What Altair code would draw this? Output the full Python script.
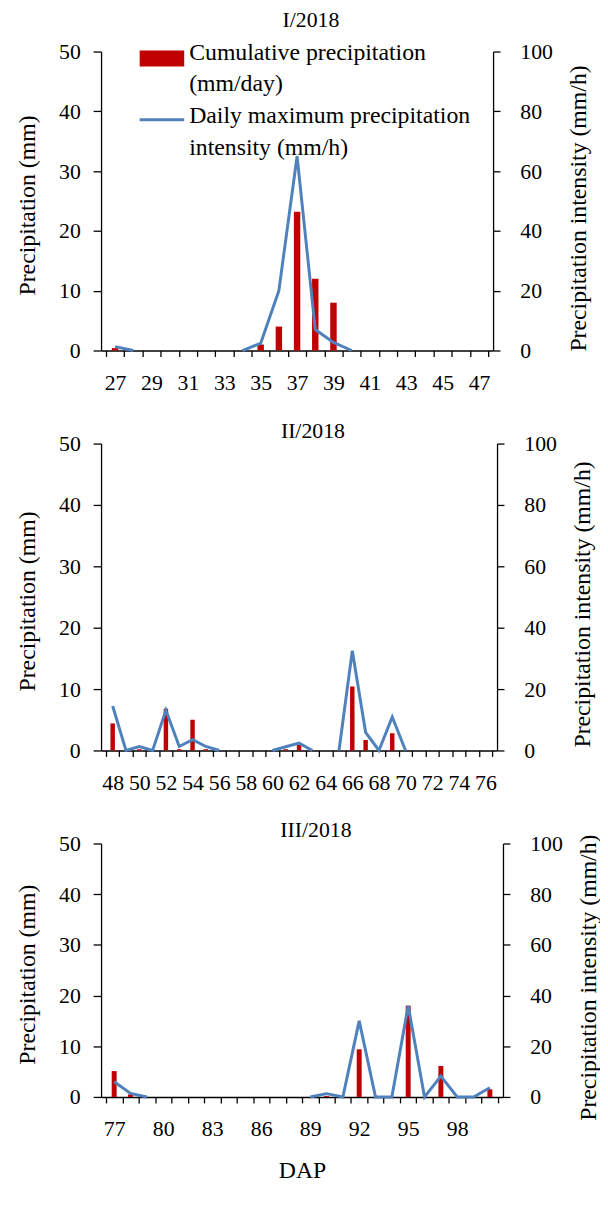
import altair as alt
import pandas as pd

# ---------------- data ----------------
days1 = list(range(27, 48))
precip1 = [0.4, 0, 0, 0, 0, 0, 0, 0, 1.0, 4.0, 23.2, 12.0, 8.0, 0, 0, 0, 0, 0, 0, 0, 0]
inten1 = [1.3, 0, None, None, None, None, None, 0, 2.4, 20.0, 65.0, 7.0, 2.7, 0,
          None, None, None, None, None, None, None]

days2 = list(range(48, 77))
precip2 = [4.4, 0, 0.2, 0, 6.8, 0.2, 5.0, 0.2, 0, 0, 0, 0, 0, 0.2, 0.9, 0, 0, 0,
           10.4, 1.7, 0, 2.8, 0, 0, 0, 0, 0, 0, 0]
inten2 = [14.5, 0, 1.3, 0, 13.1, 1.3, 3.5, 1.3, 0, None, None, None, 0, 1.2, 2.4, 0,
          None, 0, 32.5, 5.9, 0, 10.9, 0, None, None, None, None, None, None]

days3 = list(range(77, 101))
precip3 = [5.1, 0.5, 0, 0, 0, 0, 0, 0, 0, 0, 0, 0, 0, 0.2, 0, 9.4, 0, 0, 18.0, 0,
           6.1, 0, 0, 1.5]
inten3 = [6.0, 1.4, 0, None, None, None, None, None, None, None, None, None, 0, 1.3,
          0, 30.0, 0, 0, 36.0, 0, 8.2, 0, 0, 3.6]

panel_titles = ["I/2018", "II/2018", "III/2018"]
legend_labels = ["Cumulative precipitation\n(mm/day)",
                 "Daily maximum precipitation\nintensity (mm/h)"]
mm_ticks = [0, 10, 20, 30, 40, 50]
ih_ticks = [0, 20, 40, 60, 80, 100]

RED = "#C00000"
BLUE = "#4F81BD"
FONT = "Liberation Serif"


def segments(vals):
    seg, out, gap = 0, [], True
    for v in vals:
        if v is None:
            gap = True
            out.append(None)
        else:
            if gap:
                seg += 1
            gap = False
            out.append(seg)
    return out


def panel(days, precip, inten, title, width, height, label_step, bar_size,
          title_y, legend=False, xtitle=None):
    bars_df = pd.DataFrame({"day": days, "mm": precip})
    line_df = pd.DataFrame({"day": days, "ih": inten, "seg": segments(inten)}).dropna()
    lo, hi = days[0] - 0.5, days[-1] + 0.5
    xscale = alt.Scale(domain=[lo, hi], nice=False, zero=False)
    bounds = [d - 0.5 for d in days] + [hi]
    label_vals = days[::label_step]

    bars = alt.Chart(bars_df).mark_bar(color=RED, size=bar_size).encode(
        x=alt.X("day:Q", scale=xscale,
                axis=alt.Axis(orient="bottom", values=bounds, labels=False, ticks=True,
                              tickSize=6, tickWidth=1.3, tickColor="black",
                              domain=True, domainColor="black", domainWidth=1.5,
                              grid=False, title=None)),
        y=alt.Y("mm:Q", scale=alt.Scale(domain=[0, 50], nice=False),
                axis=alt.Axis(orient="left", values=mm_ticks, grid=False, tickSize=8,
                              tickWidth=1.3, tickColor="black", domainColor="black",
                              domainWidth=1.3, labelPadding=13,
                              title="Precipitation (mm)", titleX=-74,
                              titleY=height / 2 + 4,
                              titleAngle=270, titleBaseline="middle", titleAlign="center")),
    )
    xaxis2 = dict(orient="bottom", values=label_vals, ticks=False, tickSize=0,
                  domain=False, grid=False, labelPadding=22, format="d")
    if xtitle:
        xaxis2.update(title=xtitle, titleY=74, titleBaseline="middle")
    else:
        xaxis2.update(title=None)
    line = alt.Chart(line_df).mark_line(color=BLUE, strokeWidth=3).encode(
        x=alt.X("day:Q", scale=xscale, axis=alt.Axis(**xaxis2)),
        y=alt.Y("ih:Q", scale=alt.Scale(domain=[0, 100], nice=False),
                axis=alt.Axis(orient="right", values=ih_ticks, grid=False, tickSize=7,
                              tickWidth=1.3, tickColor="black", domainColor="black",
                              domainWidth=1.3, labelPadding=20,
                              title="Precipitation intensity (mm/h)", titleX=86,
                              titleY=height / 2 + 7, titleAngle=270,
                              titleBaseline="middle", titleAlign="center")),
        detail="seg:N",
    )
    ttl = alt.Chart(pd.DataFrame({"t": [title]})).mark_text(
        font=FONT, fontSize=22, color="black", align="center", baseline="middle"
    ).encode(text="t:N", x=alt.value(width / 2 + 14), y=alt.value(title_y))

    layers = [bars, line, ttl]
    if legend:
        sw1 = alt.Chart(pd.DataFrame({"l": [legend_labels[0]]})).mark_rect(color=RED).encode(
            x=alt.value(39), x2=alt.value(84), y=alt.value(-1), y2=alt.value(15))
        sw2 = alt.Chart(pd.DataFrame({"l": [legend_labels[1]]})).mark_rule(
            color=BLUE, strokeWidth=3).encode(
            x=alt.value(39), x2=alt.value(84), y=alt.value(69))
        t1 = alt.Chart(pd.DataFrame({"l": [legend_labels[0]]})).mark_text(
            font=FONT, fontSize=24, color="black", align="left", baseline="top",
            lineBreak="\n", lineHeight=31).encode(text="l:N", x=alt.value(89), y=alt.value(-10))
        t2 = alt.Chart(pd.DataFrame({"l": [legend_labels[1]]})).mark_text(
            font=FONT, fontSize=24, color="black", align="left", baseline="top",
            lineBreak="\n", lineHeight=33).encode(text="l:N", x=alt.value(89), y=alt.value(53))
        layers += [sw1, sw2, t1, t2]

    return alt.layer(*layers).resolve_scale(y="independent").resolve_axis(
        x="independent", y="independent").properties(width=width, height=height)


p1 = panel(days1, precip1, inten1, panel_titles[0], 396, 302, 2, 6.5, -32, legend=True)
p2 = panel(days2, precip2, inten2, panel_titles[1], 400, 310, 2, 4.5, -13)
p3 = panel(days3, precip3, inten3, panel_titles[2], 406, 256, 3, 5, -14, xtitle="DAP")

chart = alt.vconcat(p1, p2, p3, spacing=94, bounds="flush").configure_view(
    stroke=None
).configure_axis(
    labelFont=FONT, labelFontSize=22, labelColor="black", labelOverlap=False,
    labelFlush=False, labelBound=False,
    titleFont=FONT, titleFontSize=24, titleColor="black", titleFontWeight="normal",
).properties(padding={"left": 8, "top": -5, "right": 0, "bottom": 0}, background="white")

chart.save("out.html", embed_options={"renderer": "svg", "actions": False})
